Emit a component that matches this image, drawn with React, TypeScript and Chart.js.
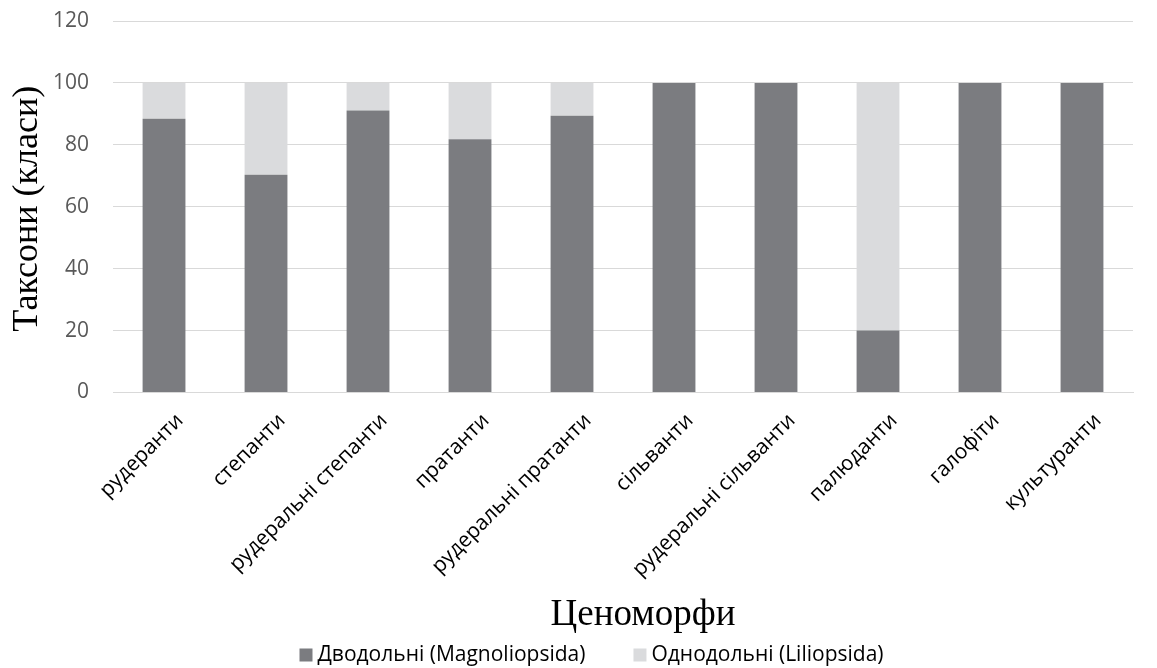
import React, { useEffect, useRef } from "react";
import { Chart, registerables } from "chart.js";

Chart.register(...registerables);

const categories = [
  "рудеранти",
  "степанти",
  "рудеральні степанти",
  "пратанти",
  "рудеральні пратанти",
  "сільванти",
  "рудеральні сільванти",
  "палюданти",
  "галофіти",
  "культуранти",
];

const dicots = [88.4, 70.3, 91.1, 81.8, 89.4, 100, 100, 20, 100, 100];
const monocots = [11.6, 29.7, 8.9, 18.2, 10.6, 0, 0, 80, 0, 0];

const seriesNames = ["Дводольні (Magnoliopsida)", "Однодольні (Liliopsida)"];
const yTicks = [0, 20, 40, 60, 80, 100, 120];
const xTitle = "Ценоморфи";
const yTitle = "Таксони (класи)";

const DARK = "#7b7c80";
const LIGHT = "#dadbdd";
const SANS = "'Open Sans', 'Noto Sans', sans-serif";
const SERIF = "'Liberation Serif', 'DejaVu Serif', serif";

// Draws both axis titles and a compact legend row underneath the labels.
const titlesPlugin = {
  id: "titles",
  afterDraw(chart: any) {
    const ctx = chart.ctx as CanvasRenderingContext2D;
    const area = chart.chartArea;
    ctx.save();

    ctx.fillStyle = "#000";
    ctx.textAlign = "center";

    // y-axis title, rotated
    ctx.font = `36px ${SERIF}`;
    ctx.textBaseline = "middle";
    ctx.save();
    ctx.translate(28, (area.top + area.bottom) / 2 + 2);
    ctx.rotate(-Math.PI / 2);
    ctx.fillText(yTitle, 0, 0);
    ctx.restore();

    // x-axis title
    ctx.font = `37px ${SERIF}`;
    ctx.textBaseline = "alphabetic";
    ctx.fillText(xTitle, (area.left + area.right) / 2 + 20, 625);

    // legend
    ctx.font = `21px ${SANS}`;
    ctx.textBaseline = "middle";
    ctx.textAlign = "left";
    const box = 13;
    const gapBoxText = 5;
    const gapItems = 48;
    const items = chart.data.datasets.map((ds: any) => ({
      label: ds.label as string,
      color: ds.backgroundColor as string,
      w: ctx.measureText(ds.label).width,
    }));
    const total =
      items.reduce((s: number, it: any) => s + box + gapBoxText + it.w, 0) +
      gapItems * (items.length - 1);
    let x = chart.width / 2 + 13 - total / 2;
    const cy = 655;
    for (const it of items) {
      ctx.fillStyle = it.color;
      ctx.fillRect(x, cy - box / 2, box, box);
      x += box + gapBoxText;
      ctx.fillStyle = "#000";
      ctx.fillText(it.label, x, cy);
      x += it.w + gapItems;
    }
    ctx.restore();
  },
};

export default function App() {
  const canvasRef = useRef<HTMLCanvasElement | null>(null);

  useEffect(() => {
    const canvas = canvasRef.current;
    if (!canvas) return;
    const chart = new Chart(canvas, {
      type: "bar",
      data: {
        labels: categories,
        datasets: [
          {
            label: seriesNames[0],
            data: dicots,
            backgroundColor: DARK,
            barPercentage: 0.42,
            categoryPercentage: 1,
          },
          {
            label: seriesNames[1],
            data: monocots,
            backgroundColor: LIGHT,
            barPercentage: 0.42,
            categoryPercentage: 1,
          },
        ],
      },
      plugins: [titlesPlugin],
      options: {
        responsive: false,
        animation: false,
        layout: { padding: { top: 21, right: 24, left: 29, bottom: 70 } },
        plugins: {
          tooltip: { enabled: false },
          legend: { display: false },
        },
        scales: {
          x: {
            stacked: true,
            grid: { display: false, drawTicks: false },
            border: { display: true, color: "#d9d9d9", width: 1 },
            ticks: {
              color: "#000",
              font: { family: SANS, size: 21 },
              minRotation: 45,
              maxRotation: 45,
              padding: 16,
              labelOffset: 16,
            },
            afterFit: (scale: any) => {
              scale.paddingLeft = 0;
              scale.paddingRight = 0;
            },
          },
          y: {
            stacked: true,
            min: 0,
            max: 120,
            afterBuildTicks: (axis: any) => {
              axis.ticks = yTicks.map((v) => ({ value: v }));
            },
            afterFit: (scale: any) => {
              scale.paddingTop = 0;
              scale.paddingBottom = 0;
            },
            grid: { color: "#d9d9d9", drawTicks: false },
            border: { display: false },
            ticks: {
              color: "#595959",
              font: { family: SANS, size: 21 },
              padding: 24,
            },
          },
        },
      },
    });
    return () => chart.destroy();
  }, []);

  return (
    <div style={{ position: "fixed", left: 0, top: 0, width: 1157, height: 668, background: "#fff" }}>
      <canvas ref={canvasRef} width={1157} height={668} />
    </div>
  );
}
